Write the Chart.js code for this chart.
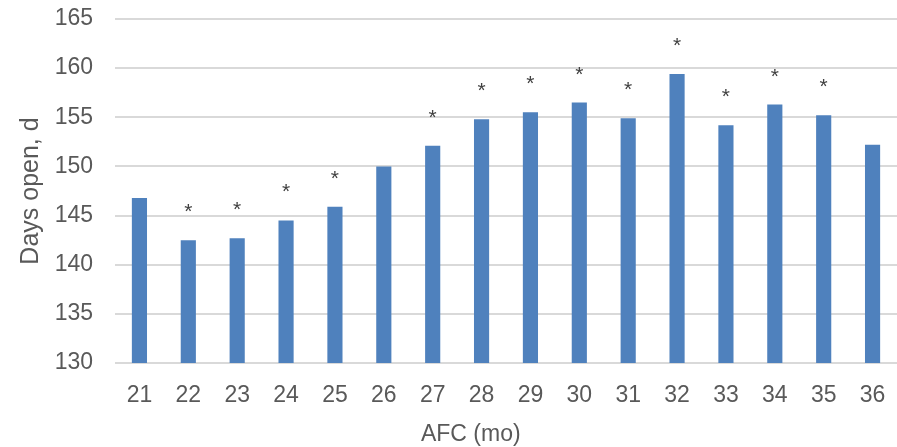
<!DOCTYPE html>
<html>
<head>
<meta charset="utf-8">
<script src="https://cdn.jsdelivr.net/npm/chart.js@4"></script>
<style>
html,body{margin:0;padding:0;background:#fff;}
#wrap{width:897px;height:447px;}
</style>
</head>
<body>
<div id="wrap"><canvas id="c" width="897" height="447"></canvas></div>
<script>
const categories = ['21','22','23','24','25','26','27','28','29','30','31','32','33','34','35','36'];
const daysOpen = [146.8, 142.5, 142.7, 144.5, 145.9, 150.0, 152.1, 154.8, 155.5, 156.5, 154.9, 159.4, 154.2, 156.3, 155.2, 152.2];
const significance = ['', '*', '*', '*', '*', '', '*', '*', '*', '*', '*', '*', '*', '*', '*', ''];
const yTicks = { min: 130, max: 165, step: 5 };
const yTitle = 'Days open, d';
const xTitle = 'AFC (mo)';

const FONT = "'Liberation Sans', Arial, sans-serif";
const TXT = '#595959';

const starPlugin = {
  id: 'stars',
  afterDatasetsDraw(chart) {
    const ctx = chart.ctx;
    const meta = chart.getDatasetMeta(0);
    ctx.save();
    ctx.fillStyle = '#404040';
    ctx.font = '21px ' + FONT;
    ctx.textAlign = 'center';
    ctx.textBaseline = 'alphabetic';
    meta.data.forEach((bar, i) => {
      if (significance[i]) {
        ctx.fillText(significance[i], bar.x, bar.y - 22);
      }
    });
    ctx.restore();
  }
};

const xTitlePlugin = {
  id: 'xTitle',
  afterDraw(chart) {
    const ctx = chart.ctx;
    const a = chart.chartArea;
    ctx.save();
    ctx.fillStyle = TXT;
    ctx.font = '23px ' + FONT;
    ctx.textAlign = 'center';
    ctx.textBaseline = 'middle';
    ctx.fillText(xTitle, a.left + (a.right - a.left) * 0.455, 435);
    ctx.restore();
  }
};

new Chart(document.getElementById('c'), {
  type: 'bar',
  data: {
    labels: categories,
    datasets: [{
      data: daysOpen,
      backgroundColor: '#4F81BD',
      borderWidth: 0,
      categoryPercentage: 1.0,
      barPercentage: 0.31
    }]
  },
  options: {
    responsive: false,
    animation: false,
    devicePixelRatio: 1,
    layout: { padding: { top: 19, right: 0, left: 0, bottom: 0 } },
    plugins: {
      legend: { display: false },
      tooltip: { enabled: false }
    },
    scales: {
      x: {
        grid: { display: false, drawTicks: false },
        border: { display: false },
        ticks: { color: TXT, font: { family: FONT, size: 23 }, padding: 19, maxRotation: 0, autoSkip: false },
        title: { display: false },
        afterFit(scale) { scale.height = 84; scale.paddingLeft = 0; scale.paddingRight = 0; }
      },
      y: {
        min: yTicks.min,
        max: yTicks.max,
        grid: { color: '#d9d9d9', lineWidth: 2, drawTicks: false },
        border: { display: false },
        ticks: { stepSize: yTicks.step, color: TXT, font: { family: FONT, size: 23 }, padding: 22 },
        title: { display: true, text: yTitle, color: TXT, font: { family: FONT, size: 25 }, padding: { top: 16, bottom: 0 } },
        afterFit(scale) { scale.width = 115; scale.paddingTop = 0; scale.paddingBottom = 0; }
      }
    }
  },
  plugins: [starPlugin, xTitlePlugin]
});
</script>
</body>
</html>
